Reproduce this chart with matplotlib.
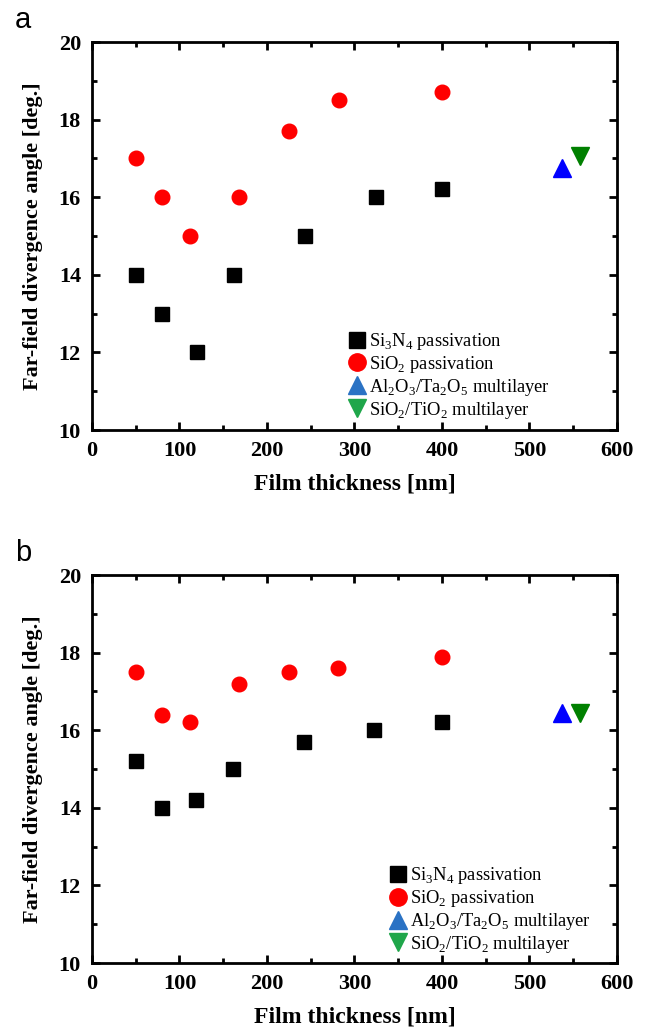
import numpy as np
import matplotlib.pyplot as plt
from matplotlib.lines import Line2D
from matplotlib.ticker import MultipleLocator

plt.rcParams['font.family'] = ['Liberation Serif', 'DejaVu Serif']
plt.rcParams['mathtext.fontset'] = 'custom'
plt.rcParams['mathtext.rm'] = 'Liberation Serif'

# panel a
a_si3n4_x = [50, 80, 120, 162, 243, 325, 400]
a_si3n4_y = [14.0, 13.0, 12.0, 14.0, 15.0, 16.0, 16.2]
a_sio2_x = [50, 80, 112, 168, 225, 282, 400]
a_sio2_y = [17.0, 16.0, 15.0, 16.0, 17.7, 18.5, 18.7]
a_alta_x = [537]
a_alta_y = [16.75]
a_siti_x = [558]
a_siti_y = [17.05]

# panel b
b_si3n4_x = [50, 80, 119, 161, 242, 322, 400]
b_si3n4_y = [15.2, 14.0, 14.2, 15.0, 15.7, 16.0, 16.2]
b_sio2_x = [50, 80, 112, 168, 225, 281, 400]
b_sio2_y = [17.5, 16.4, 16.2, 17.2, 17.5, 17.6, 17.9]
b_alta_x = [537]
b_alta_y = [16.45]
b_siti_x = [558]
b_siti_y = [16.45]

labels = ['Si$_3$N$_4$ passivation', 'SiO$_2$ passivation',
          'Al$_2$O$_3$/Ta$_2$O$_5$ multilayer', 'SiO$_2$/TiO$_2$ multilayer']

fig = plt.figure(figsize=(6.46, 10.3), dpi=100)
ax_a = fig.add_axes([0.1424, 0.5825, 0.8127, 0.3767])
ax_b = fig.add_axes([0.1424, 0.065, 0.8127, 0.3767])


def draw(ax, d, tag, leg_x, leg_y):
    sx, sy, ox, oy, ax_, ay_, tx, ty = d
    ax.plot(sx, sy, 's', color='black', ms=10, ls='none')
    ax.plot(ox, oy, 'o', color='red', ms=10.5, ls='none')
    ax.plot(ax_, ay_, '^', color='blue', ms=13, ls='none')
    ax.plot(tx, ty, 'v', color='green', ms=13, ls='none')

    ax.set_xlim(0, 600)
    ax.set_ylim(10, 20)
    ax.xaxis.set_major_locator(MultipleLocator(100))
    ax.xaxis.set_minor_locator(MultipleLocator(50))
    ax.yaxis.set_major_locator(MultipleLocator(2))
    ax.yaxis.set_minor_locator(MultipleLocator(1))
    ax.tick_params(which='both', direction='in', top=True, right=True, width=2)
    ax.tick_params(which='major', length=6, labelsize=16, pad=8)
    ax.tick_params(which='minor', length=3.5)
    for lab in ax.get_xticklabels() + ax.get_yticklabels():
        lab.set_fontweight('bold')
    for s in ax.spines.values():
        s.set_linewidth(2)

    ax.set_xlabel('Film thickness [nm]', fontsize=17, fontweight='bold', labelpad=9)
    ax.set_ylabel('Far-field divergence angle [deg.]', fontsize=16, fontweight='bold', labelpad=11)

    handles = [
        Line2D([], [], marker='s', color='black', ls='none', ms=12),
        Line2D([], [], marker='o', color='red', ls='none', ms=12.5),
        Line2D([], [], marker='^', color='#2a72c4', ls='none', ms=13),
        Line2D([], [], marker='v', color='#1fa64a', ls='none', ms=13),
    ]
    ax.legend(handles, labels, loc='upper left', bbox_to_anchor=(leg_x, leg_y),
              frameon=False, fontsize=13.3, handlelength=0.8, handletextpad=0.25,
              labelspacing=0.1, borderaxespad=0, borderpad=0)

    ax.text(-0.147, 1.036, tag, transform=ax.transAxes, fontsize=21,
            family='Liberation Sans', va='baseline', ha='left')


draw(ax_a, (a_si3n4_x, a_si3n4_y, a_sio2_x, a_sio2_y,
            a_alta_x, a_alta_y, a_siti_x, a_siti_y), 'a', 0.491, 0.255)
draw(ax_b, (b_si3n4_x, b_si3n4_y, b_sio2_x, b_sio2_y,
            b_alta_x, b_alta_y, b_siti_x, b_siti_y), 'b', 0.568, 0.252)

plt.savefig('out.png', dpi=100)
